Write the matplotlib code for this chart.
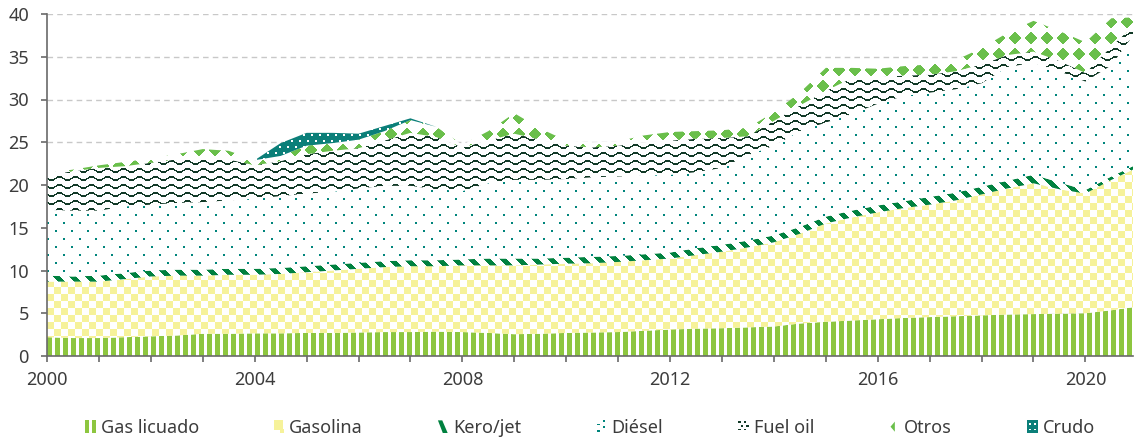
import numpy as np
import matplotlib
matplotlib.use("Agg")
import matplotlib.pyplot as plt
from matplotlib.legend_handler import HandlerBase
from matplotlib.patches import Rectangle, Polygon

# fechas (cada semestre + último mes)
meses = ['2000-01', '2000-07', '2001-01', '2001-07', '2002-01', '2002-07',
         '2003-01', '2003-07', '2004-01', '2004-07', '2005-01', '2005-07',
         '2006-01', '2006-07', '2007-01', '2007-07', '2008-01', '2008-07',
         '2009-01', '2009-07', '2010-01', '2010-07', '2011-01', '2011-07',
         '2012-01', '2012-07', '2013-01', '2013-07', '2014-01', '2014-07',
         '2015-01', '2015-07', '2016-01', '2016-07', '2017-01', '2017-07',
         '2018-01', '2018-07', '2019-01', '2019-07', '2020-01', '2020-07',
         '2020-12']

gas_licuado = [2.2, 2.1, 2.1, 2.2, 2.3, 2.4, 2.6, 2.6, 2.65, 2.65, 2.7, 2.7,
               2.75, 2.8, 2.8, 2.85, 2.8, 2.7, 2.55, 2.6, 2.7, 2.75, 2.8, 2.95,
               3.1, 3.2, 3.25, 3.35, 3.45, 3.8, 4.0, 4.15, 4.3, 4.45, 4.55, 4.65,
               4.75, 4.85, 4.9, 4.95, 5.0, 5.35, 5.7]
gasolina = [6.5, 6.6, 6.6, 6.8, 7.0, 7.0, 6.8, 6.9, 6.85, 6.95, 7.1, 7.3,
            7.45, 7.6, 7.7, 7.65, 7.8, 7.9, 8.05, 8.1, 8.1, 8.1, 8.2, 8.25,
            8.3, 8.6, 8.95, 9.35, 9.85, 10.5, 11.5, 12.05, 12.5, 12.85, 13.15, 13.55,
            14.15, 14.75, 15.3, 14.55, 14.0, 15.25, 16.1]
kero_jet = [0.7, 0.6, 0.7, 0.7, 0.7, 0.7, 0.7, 0.7, 0.7, 0.7, 0.7, 0.7,
            0.7, 0.7, 0.7, 0.7, 0.7, 0.8, 0.8, 0.7, 0.7, 0.75, 0.7, 0.7,
            0.7, 0.8, 0.8, 0.8, 0.8, 0.8, 0.8, 0.8, 0.8, 0.8, 0.9, 0.9,
            0.9, 0.9, 1.0, 0.8, 0.4, 0.4, 0.4]
diesel = [7.7, 7.7, 7.6, 7.8, 7.7, 7.8, 7.9, 8.0, 8.2, 8.4, 8.5, 8.5,
          8.7, 8.8, 8.7, 8.3, 8.0, 8.8, 9.2, 9.2, 9.2, 9.3, 9.3, 9.2,
          9.1, 8.9, 9.0, 10.0, 10.5, 11.2, 11.0, 11.3, 11.9, 12.3, 12.2, 12.1,
          12.1, 13.3, 13.1, 13.0, 12.7, 13.0, 15.3]
fuel_oil = [4.1, 4.6, 5.0, 4.7, 4.9, 5.1, 5.3, 4.8, 3.9, 4.1, 4.6, 4.8,
            4.7, 5.3, 6.2, 6.1, 5.1, 5.0, 5.4, 4.7, 3.9, 3.5, 3.6, 3.9,
            4.0, 3.9, 3.5, 2.2, 2.9, 3.0, 3.7, 4.2, 3.1, 2.4, 2.1, 2.1,
            2.2, 1.4, 1.3, 1.2, 1.0, 2.2, 1.1]
otros = [0.2, 0.2, 0.3, 0.5, 0.5, 0.6, 0.9, 1.0, 0.6, 0.6, 1.0, 0.9,
         1.0, 1.1, 1.5, 1.2, 0.3, 1.1, 2.4, 1.3, 0.6, 0.6, 0.5, 0.8,
         1.0, 0.9, 0.9, 1.0, 1.0, 1.5, 2.7, 1.2, 1.0, 1.1, 1.2, 1.3,
         1.9, 2.6, 3.6, 3.5, 3.6, 3.3, 1.0]
crudo = [0, 0, 0, 0, 0, 0, 0, 0, 0, 1.5, 1.5, 1.2,
         0.7, 0.6, 0.2, 0, 0, 0, 0, 0, 0, 0, 0, 0,
         0, 0, 0, 0, 0, 0, 0, 0, 0, 0, 0, 0,
         0, 0, 0, 0, 0, 0, 0]

nombres = ['Gas licuado', 'Gasolina', 'Kero/jet', 'Diésel', 'Fuel oil', 'Otros', 'Crudo']
patrones = ['rayas', 'damero', 'kero', 'puntos', 'ondas', 'rombos', 'crudo']

C_VERDE = '#8dc63f'
C_AMARILLO = '#f6f29a'
C_KERO = '#00813f'
C_TEAL = '#00857c'
C_OSCURO = '#123a27'
C_ROMBO = '#6abf4b'
C_CRUDO = '#0b7f79'
C_TEXTO = '#3c3c3c'


def hex_rgba(c):
    return np.array(matplotlib.colors.to_rgba(c))


def patron(kind, W, H):
    U, V = np.meshgrid(np.arange(W), np.arange(H))
    img = np.ones((H, W, 4))
    if kind == 'rayas':
        mask, col = (U % 8) < 5, C_VERDE
    elif kind == 'damero':
        mask, col = ((U // 7) + (V // 7)) % 2 == 0, C_AMARILLO
    elif kind == 'kero':
        mask, col = ((U - V) % 16) < 7, C_KERO
    elif kind == 'puntos':
        shift = ((V // 8) % 2) * 8
        mask, col = ((V % 8) < 2) & (((U + shift) % 16) < 2), C_TEAL
    elif kind == 'ondas':
        fase = V - 1.8 * np.sin(2 * np.pi * U / 16)
        mask, col = np.abs((fase % 8) - 4) < 0.9, C_OSCURO
    elif kind == 'rombos':
        du = (U % 16) - 7.5
        dv = (V % 16) - 7.5
        mask, col = (np.abs(du) + np.abs(dv)) <= 6.5, C_ROMBO
    else:
        img[:] = hex_rgba(C_CRUDO)
        shift = ((V // 6) % 2) * 4
        mask, col = ((V % 6) < 2) & (((U + shift) % 8) < 2), '#ffffff'
    img[mask] = hex_rgba(col)
    return img


class SwatchHandler(HandlerBase):
    def create_artists(self, legend, orig_handle, xd, yd, w, h, fontsize, trans):
        kind = orig_handle.get_gid()
        x0, y0 = -xd, -yd
        arts = []
        if kind == 'rayas':
            arts.append(Rectangle((x0, y0), 0.38 * w, h, color=C_VERDE))
            arts.append(Rectangle((x0 + 0.58 * w, y0), 0.38 * w, h, color=C_VERDE))
        elif kind == 'damero':
            arts.append(Rectangle((x0, y0 + 0.2 * h), 0.8 * w, 0.8 * h, color=C_AMARILLO))
            arts.append(Rectangle((x0 + 0.6 * w, y0), 0.3 * w, 0.35 * h, color=C_AMARILLO))
        elif kind == 'kero':
            arts.append(Polygon([(x0, y0 + h), (x0 + 0.4 * w, y0 + h),
                                 (x0 + 0.9 * w, y0), (x0 + 0.45 * w, y0)], color=C_KERO))
        elif kind in ('puntos', 'ondas'):
            col = C_TEAL if kind == 'puntos' else C_OSCURO
            pts = [(0.1, 0.1), (0.6, 0.4), (0.1, 0.6), (0.6, 0.85)] if kind == 'puntos' else \
                  [(0.0, 0.2), (0.5, 0.2), (0.25, 0.5), (0.75, 0.5), (0.0, 0.8), (0.5, 0.8)]
            for px, py in pts:
                arts.append(Rectangle((x0 + px * w, y0 + py * h), 0.22 * w, 0.15 * h, color=col))
        elif kind == 'rombos':
            arts.append(Polygon([(x0 + 0.15 * w, y0 + 0.5 * h), (x0 + 0.55 * w, y0 + 0.9 * h),
                                 (x0 + 0.55 * w, y0 + 0.1 * h)], color=C_ROMBO))
        else:
            arts.append(Rectangle((x0, y0), w, h, color=C_CRUDO))
            for px, py in [(0.15, 0.2), (0.6, 0.2), (0.15, 0.65), (0.6, 0.65)]:
                arts.append(Rectangle((x0 + px * w, y0 + py * h), 0.2 * w, 0.15 * h, color='white'))
        for a in arts:
            a.set_transform(trans)
            a.set_linewidth(0)
        return arts


def main():
    plt.rcParams['font.family'] = ['Noto Sans', 'DejaVu Sans']
    x = np.array([int(m[:4]) + (int(m[5:]) - 1) / 12 for m in meses])
    series = [gas_licuado, gasolina, kero_jet, diesel, fuel_oil, otros, crudo]

    fig = plt.figure(figsize=(11.35, 4.41), dpi=100)
    left, right, bottom, top = 47, 1133, 85, 427
    ax = fig.add_axes([left / 1135, bottom / 441, (right - left) / 1135, (top - bottom) / 441])
    W, H = right - left, top - bottom
    xmin, xmax = 2000, x[-1]
    ax.set_xlim(xmin, xmax)
    ax.set_ylim(0, 40)

    base = np.zeros(len(x))
    for vals, kind in zip(series, patrones):
        vals = np.array(vals, dtype=float)
        topv = base + vals
        if vals.max() > 0:
            poly = ax.fill_between(x, base, topv, facecolor='none', edgecolor='none', lw=0)
            im = ax.imshow(patron(kind, W, H), extent=[xmin, xmax, 0, 40], origin='upper',
                           aspect='auto', interpolation='nearest', zorder=2)
            im.set_clip_path(poly.get_paths()[0], transform=ax.transData)
        base = topv
    ax.set_xlim(xmin, xmax)
    ax.set_ylim(0, 40)

    # ejes
    ax.set_axisbelow(True)
    ax.yaxis.grid(True, color='#c8c8c8', linestyle=(0, (4, 3)), linewidth=1)
    for s in ['top', 'right']:
        ax.spines[s].set_visible(False)
    for s in ['left', 'bottom']:
        ax.spines[s].set_color('#6a6a6a')
        ax.spines[s].set_linewidth(1.2)
        ax.spines[s].set_zorder(5)
    ax.set_yticks(np.arange(0, 41, 5))
    ax.set_xticks(np.arange(2000, 2021, 4))
    ax.set_xticks(np.arange(2000, 2021, 1), minor=True)
    ax.tick_params(axis='both', which='both', colors='#6a6a6a', labelcolor=C_TEXTO,
                   labelsize=13, length=4.5, width=1.2)
    ax.tick_params(axis='y', pad=8.5)
    ax.tick_params(axis='x', pad=6)

    handles = []
    for kind in patrones:
        r = Rectangle((0, 0), 1, 1)
        r.set_gid(kind)
        handles.append(r)
    fig.legend(handles, nombres, handler_map={Rectangle: SwatchHandler()},
               loc='center', bbox_to_anchor=(590 / 1135, 1 - 428 / 441), ncol=7,
               frameon=False, fontsize=13, labelcolor=C_TEXTO,
               handlelength=0.6, handleheight=0.7, handletextpad=0.25,
               columnspacing=4.15, borderpad=0)

    fig.savefig('out.png', dpi=100)


if __name__ == "__main__":
    main()
